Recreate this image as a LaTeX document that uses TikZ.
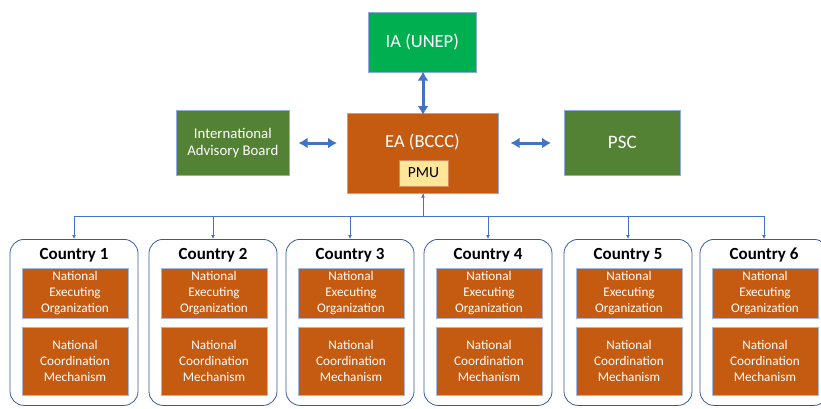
\documentclass[tikz,border=0pt]{standalone}
\usepackage{fontspec}
\setmainfont{Carlito}
\usetikzlibrary{arrows.meta}
\definecolor{brightgreen}{HTML}{00B050}
\definecolor{darkgreen}{HTML}{548235}
\definecolor{orng}{HTML}{C55A11}
\definecolor{pmuyel}{HTML}{FFE699}
\definecolor{arrblue}{HTML}{4472C4}
\begin{document}
\begin{tikzpicture}[x=1pt,y=-1pt,
  box/.style={draw=arrblue!60, line width=0.6pt, text=white, align=center, inner sep=0pt, anchor=north west},
  dbl/.style={arrblue, line width=3pt, {Latex[length=9pt,width=11pt]}-{Latex[length=9pt,width=11pt]}},
  bus/.style={arrblue, line width=0.8pt},
  busarr/.style={arrblue, line width=0.8pt, -{Latex[length=4pt,width=4pt]}},
  country/.style={draw=arrblue!80!black, line width=0.8pt, rounded corners=14pt, minimum width=128pt, minimum height=166pt, anchor=north, inner sep=0pt},
  ctitle/.style={font=\bfseries\fontsize{17}{19}\selectfont, text=black},
  inner/.style={fill=orng, draw=arrblue!50, line width=0.5pt, minimum width=106pt, anchor=north, text=white, align=center, inner sep=0pt, font=\fontsize{13.2}{16}\selectfont}
]
\useasboundingbox (0,0) rectangle (821,408);
\node[box, fill=brightgreen, minimum width=108pt, minimum height=60pt, font=\fontsize{18.5}{20}\selectfont] (ia) at (368,12) {IA (UNEP)};
\node[box, fill=orng, minimum width=151pt, minimum height=80pt] (ea) at (347,113) {};
\node[text=white, font=\fontsize{18.5}{20}\selectfont] (eat) at (422.5,142) {EA (BCCC)};
\node[fill=pmuyel, draw=orng!70, line width=0.5pt, minimum width=49pt, minimum height=26pt, inner sep=0pt, font=\fontsize{15.5}{17}\selectfont] (pmu) at (423.5,173) {PMU};
\node[box, fill=darkgreen, minimum width=113pt, minimum height=65pt, font=\fontsize{14.8}{17}\selectfont] (iab) at (176,110) {International\\Advisory Board};
\node[box, fill=darkgreen, minimum width=116pt, minimum height=65pt, font=\fontsize{19}{20}\selectfont] (psc) at (564,110) {PSC};

\draw[dbl] ([yshift=1pt]ia.south -| 423,0) -- ([yshift=-2pt]ea.north -| 423,0);
\draw[dbl] ([xshift=9pt]iab.east |- 0,143) -- ([xshift=-10pt]ea.west |- 0,143);
\draw[dbl] ([xshift=12pt]ea.east |- 0,143) -- ([xshift=-13pt]psc.west |- 0,143);

\coordinate (busc) at (423,216);
\draw[bus] (ea.south -| busc) -- (busc);
\draw[bus] (74,216) -- (764,216);

\foreach \i/\cx in {1/74,2/213,3/350,4/488,5/628,6/764}{
  \node[country] (c\i) at (\cx,239) {};
  \node[ctitle] (t\i) at (\cx,255) {Country \i};
  \node[inner, minimum height=50pt] (neo\i) at (\cx+1,268) {};
  \node[text=white, align=center, font=\fontsize{13.2}{16}\selectfont, inner sep=0pt] (neot\i) at (\cx+1,293) {National\\Executing\\Organization};
  \node[inner, minimum height=68pt] (ncm\i) at (\cx+1,327) {National\\Coordination\\Mechanism};
  \draw[busarr] (\cx,216) -- (c\i.north);
}
\draw[busarr] (busc) -- (ea.south -| busc);
\end{tikzpicture}
\end{document}
